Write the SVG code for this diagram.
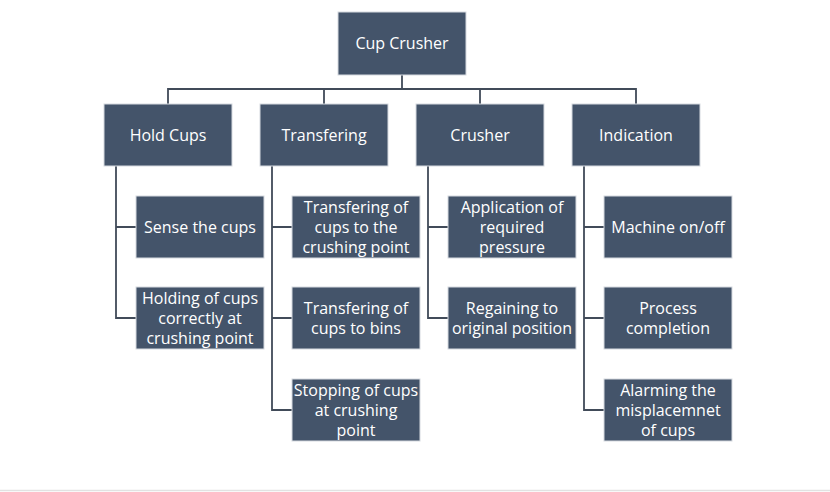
<svg xmlns="http://www.w3.org/2000/svg" width="830" height="492" viewBox="0 0 830 492">
<style>
.box{fill:#44546A;stroke:#D6DAE0;stroke-width:1}
.t{font-family:"Open Sans","Noto Sans",sans-serif;font-size:16px;fill:#FFFFFF;text-anchor:middle}
.c{fill:none;stroke:#414B59;stroke-width:1.8}
</style>
<rect width="830" height="492" fill="#FFFFFF"/>
<g id="connectors">
<path class="c" d="M402 75V89M168 104V89H636V104M324 89V104M480 89V104"/>
<path class="c" d="M116 166V318H136M116 227H136"/>
<path class="c" d="M272 166V410H292M272 227H292M272 318H292"/>
<path class="c" d="M428 166V318H448M428 227H448"/>
<path class="c" d="M584 166V410H604M584 227H604M584 318H604"/>
</g>
<g id="root"><rect class="box" x="338" y="12" width="128" height="63"/><text class="t" x="402" y="49">Cup Crusher</text></g>
<g id="hold-cups"><rect class="box" x="104" y="104" width="128" height="62"/><text class="t" x="168" y="141">Hold Cups</text></g>
<g id="transfering"><rect class="box" x="260" y="104" width="128" height="62"/><text class="t" x="324" y="141">Transfering</text></g>
<g id="crusher"><rect class="box" x="416" y="104" width="128" height="62"/><text class="t" x="480" y="141">Crusher</text></g>
<g id="indication"><rect class="box" x="572" y="104" width="128" height="62"/><text class="t" x="636" y="141">Indication</text></g>
<g id="sense"><rect class="box" x="136" y="196" width="128" height="62"/><text class="t" x="200" y="233">Sense the cups</text></g>
<g id="holding"><rect class="box" x="136" y="287" width="128" height="62"/><text class="t" x="200" y="304">Holding of cups<tspan x="200" dy="20">correctly at</tspan><tspan x="200" dy="20">crushing point</tspan></text></g>
<g id="transfer-crush"><rect class="box" x="292" y="196" width="128" height="62"/><text class="t" x="356" y="213">Transfering of<tspan x="356" dy="20">cups to the</tspan><tspan x="356" dy="20">crushing point</tspan></text></g>
<g id="transfer-bins"><rect class="box" x="292" y="287" width="128" height="62"/><text class="t" x="356" y="314">Transfering of<tspan x="356" dy="20">cups to bins</tspan></text></g>
<g id="stopping"><rect class="box" x="292" y="379" width="128" height="62"/><text class="t" x="356" y="396">Stopping of cups<tspan x="356" dy="20">at crushing</tspan><tspan x="356" dy="20">point</tspan></text></g>
<g id="application"><rect class="box" x="448" y="196" width="128" height="62"/><text class="t" x="512" y="213">Application of<tspan x="512" dy="20">required</tspan><tspan x="512" dy="20">pressure</tspan></text></g>
<g id="regaining"><rect class="box" x="448" y="287" width="128" height="62"/><text class="t" x="512" y="314">Regaining to<tspan x="512" dy="20">original position</tspan></text></g>
<g id="machine"><rect class="box" x="604" y="196" width="128" height="62"/><text class="t" x="668" y="233">Machine on/off</text></g>
<g id="process"><rect class="box" x="604" y="287" width="128" height="62"/><text class="t" x="668" y="314">Process<tspan x="668" dy="20">completion</tspan></text></g>
<g id="alarming"><rect class="box" x="604" y="379" width="128" height="62"/><text class="t" x="668" y="396">Alarming the<tspan x="668" dy="20">misplacemnet</tspan><tspan x="668" dy="20">of cups</tspan></text></g>
<line x1="0" y1="490.5" x2="830" y2="490.5" stroke="#E2E2E2" stroke-width="1.5"/>
</svg>
